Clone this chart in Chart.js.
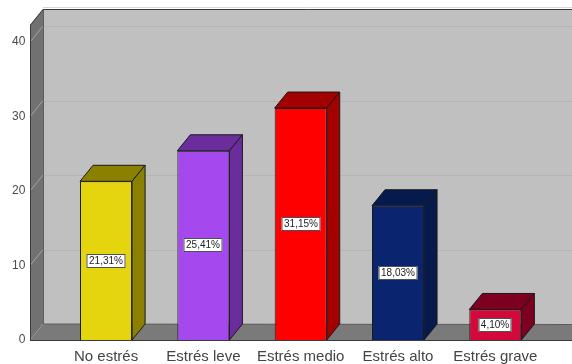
<!DOCTYPE html>
<html><head><meta charset="utf-8">
<script src="https://cdn.jsdelivr.net/npm/chart.js@4/dist/chart.umd.min.js"></script>
<style>html,body{margin:0;padding:0;background:#fff}#wrap{width:572px;height:364px}</style>
</head><body><div id="wrap"><canvas id="c" width="572" height="364"></canvas></div>
<script>
const categories = ['No estrés', 'Estrés leve', 'Estrés medio', 'Estrés alto', 'Estrés grave'];
const percentages = [21.31, 25.41, 31.15, 18.03, 4.10];
const yTicks = [0, 10, 20, 30, 40];
const frontColors = ['#e5d50e', '#a548ee', '#ff0000', '#0a2470', '#d3093c'];
const shadeColors = ['#8b8000', '#6a2d9b', '#a30000', '#061a4e', '#7e0021'];

const DX = 13, DY = -16, WALL_X = 30;
const fmt = v => v.toFixed(2).replace('.', ',') + '%';

const threeD = {
  id: 'threeD',
  beforeDatasetsDraw(chart) {
    const ctx = chart.ctx, a = chart.chartArea, ys = chart.scales.y;
    const W = chart.width, top = a.top, bot = a.bottom;
    ctx.save();
    // back wall
    ctx.fillStyle = '#c0c0c0';
    ctx.fillRect(WALL_X + DX, top + DY, W - WALL_X - DX, bot - top);
    ctx.lineWidth = 1;
    yTicks.forEach(v => {
      if (v === 0) return;
      const py = Math.round(ys.getPixelForValue(v) + DY) + 0.5;
      ctx.strokeStyle = '#b4b4b4';
      ctx.beginPath(); ctx.moveTo(WALL_X + DX, py); ctx.lineTo(W, py); ctx.stroke();
    });
    // left wall
    ctx.fillStyle = '#717171';
    ctx.beginPath();
    ctx.moveTo(WALL_X, top); ctx.lineTo(WALL_X + DX, top + DY);
    ctx.lineTo(WALL_X + DX, bot + DY); ctx.lineTo(WALL_X, bot); ctx.closePath(); ctx.fill();
    yTicks.forEach(v => {
      if (v === 0) return;
      const py = ys.getPixelForValue(v);
      ctx.strokeStyle = '#a4a4a4';
      ctx.beginPath(); ctx.moveTo(WALL_X, py); ctx.lineTo(WALL_X + DX, py + DY); ctx.stroke();
    });
    // floor
    ctx.fillStyle = '#7a7a7a';
    ctx.beginPath();
    ctx.moveTo(WALL_X, bot); ctx.lineTo(WALL_X + DX, bot + DY);
    ctx.lineTo(W, bot + DY); ctx.lineTo(W, bot); ctx.closePath(); ctx.fill();
    // edges
    ctx.strokeStyle = '#5e5e5e';
    ctx.beginPath();
    ctx.moveTo(WALL_X + DX + 0.5, top + DY); ctx.lineTo(WALL_X + DX + 0.5, bot + DY);
    ctx.lineTo(W, bot + DY + 0.5);
    ctx.stroke();
    ctx.strokeStyle = '#3a3a3a';
    ctx.beginPath();
    ctx.moveTo(WALL_X + 0.5, bot); ctx.lineTo(WALL_X + 0.5, top);
    ctx.lineTo(WALL_X + DX, top + DY + 0.5); ctx.lineTo(W, top + DY + 0.5);
    ctx.stroke();
    ctx.beginPath();
    ctx.moveTo(WALL_X, Math.round(bot) + 0.5); ctx.lineTo(W, Math.round(bot) + 0.5);
    ctx.stroke();
    ctx.strokeStyle = '#d8d8d8';
    ctx.beginPath();
    ctx.moveTo(WALL_X + DX, top + DY - 1.5); ctx.lineTo(W, top + DY - 1.5);
    ctx.stroke();
    ctx.restore();
  },
  afterDatasetsDraw(chart) {
    const ctx = chart.ctx;
    const meta = chart.getDatasetMeta(0);
    ctx.save();
    meta.data.forEach((bar, i) => {
      const p = bar.getProps(['x', 'y', 'base', 'width'], true);
      const xl = p.x - p.width / 2, xr = p.x + p.width / 2, yt = p.y, yb = p.base;
      ctx.fillStyle = shadeColors[i];
      ctx.strokeStyle = '#1a1a1a';
      ctx.lineWidth = 1;
      ctx.beginPath();
      ctx.moveTo(xl, yt); ctx.lineTo(xl + DX, yt + DY); ctx.lineTo(xr + DX, yt + DY); ctx.lineTo(xr, yt); ctx.closePath();
      ctx.fill(); ctx.stroke();
      ctx.beginPath();
      ctx.moveTo(xr, yt); ctx.lineTo(xr + DX, yt + DY); ctx.lineTo(xr + DX, yb + DY); ctx.lineTo(xr, yb); ctx.closePath();
      ctx.fill(); ctx.stroke();
    });
    // value labels
    ctx.font = '10px "Liberation Sans", Arial, sans-serif';
    ctx.textAlign = 'center';
    ctx.textBaseline = 'middle';
    meta.data.forEach((bar, i) => {
      const p = bar.getProps(['x', 'y', 'base'], true);
      const cy = Math.round((p.y + p.base) / 2);
      const cx = Math.round(p.x);
      const t = fmt(percentages[i]);
      const w = Math.round(ctx.measureText(t).width) + 5, h = 14;
      ctx.fillStyle = '#ffffff';
      ctx.fillRect(cx - w / 2, cy - h / 2, w, h);
      ctx.strokeStyle = '#505050';
      ctx.strokeRect(cx - w / 2 + 0.5, cy - h / 2 + 0.5, w - 1, h - 1);
      ctx.fillStyle = '#222';
      ctx.fillText(t, cx, cy + 0.5);
    });
    ctx.restore();
  }
};

new Chart(document.getElementById('c'), {
  type: 'bar',
  data: {
    labels: categories,
    datasets: [{
      data: percentages,
      backgroundColor: frontColors,
      borderColor: '#1a1a1a',
      borderWidth: 1,
      barPercentage: 0.535,
      categoryPercentage: 1
    }]
  },
  options: {
    responsive: false,
    animation: false,
    layout: { padding: { left: 0, right: 28, top: 25, bottom: 0 } },
    plugins: { legend: { display: false }, tooltip: { enabled: false } },
    scales: {
      x: {
        grid: { display: false, drawTicks: false }, border: { display: false },
        ticks: { color: '#444', font: { family: '"Liberation Sans", Arial, sans-serif', size: 15 }, padding: 8, maxRotation: 0, autoSkip: false },
        afterFit(s) { s.height = 24; s.paddingLeft = 0; s.paddingRight = 0; }
      },
      y: {
        min: 0, max: 42.3,
        grid: { display: false, drawTicks: false }, border: { display: false },
        ticks: { color: '#4a4a4a', font: { family: '"Liberation Sans", Arial, sans-serif', size: 12 }, padding: 32 },
        afterBuildTicks(s) { s.ticks = yTicks.map(v => ({ value: v })); },
        afterFit(s) { s.width = 57.4; s.paddingTop = 0; s.paddingBottom = 0; }
      }
    }
  },
  plugins: [threeD]
});
</script>
</body></html>
